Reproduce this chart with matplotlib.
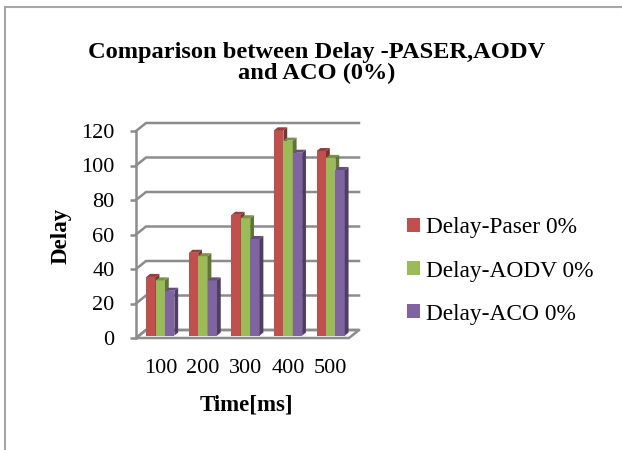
import matplotlib
matplotlib.use('Agg')
import matplotlib.pyplot as plt
from matplotlib.patches import Polygon, Patch
from matplotlib.lines import Line2D
from matplotlib.colors import to_rgb

plt.rcParams['font.family'] = ['Liberation Serif', 'DejaVu Serif']

# data
times = ['100', '200', '300', '400', '500']
series = ['Delay-Paser 0%', 'Delay-AODV 0%', 'Delay-ACO 0%']
paser = [34, 48, 70, 119, 107]
aodv = [32, 46, 68, 113, 103]
aco = [26, 32, 56, 106, 96]
colors = ['#C0504D', '#9BBB59', '#8064A2']

W, H = 622, 450
fig = plt.figure(figsize=(W / 100, H / 100), dpi=100)

# front plane of the plot box in pixels
left_px, right_px, bot_px, top_px = 136, 349, 338, 131
ax = fig.add_axes([left_px / W, (H - bot_px) / H,
                   (right_px - left_px) / W, (bot_px - top_px) / H])
ax.set_xlim(0, len(times))
ax.set_ylim(0, 120)

# depth of the fake 3d box, converted to data units
px_x = (right_px - left_px) / len(times)
px_y = (bot_px - top_px) / 120
DX = 10 / px_x
DY = 8 / px_y
grid_c = '#8C8C8C'

# side wall + back wall grid lines
for v in range(0, 121, 20):
    ax.plot([0, DX, len(times) + DX], [v, v + DY, v + DY],
            color=grid_c, lw=1.8, clip_on=False, zorder=1,
            solid_joinstyle='miter')

# floor
floor = Polygon([(0, 0), (len(times), 0), (len(times) + DX, DY), (DX, DY)],
                closed=True, facecolor='none', edgecolor=grid_c, lw=1.8,
                clip_on=False, zorder=1)
ax.add_patch(floor)


def shade(c, f):
    r, g, b = to_rgb(c)
    return (r * f, g * f, b * f)


# columns, drawn left to right so neighbours hide the side faces
bw = 0.22
f0, f1 = 0.3, 0.68
z = 2
values = [paser, aodv, aco]
for i in range(len(times)):
    x0 = i + (1 - 3 * bw) / 2
    for s in range(3):
        v = values[s][i]
        xl = x0 + s * bw + f0 * DX
        yb = f0 * DY
        ddx = (f1 - f0) * DX
        ddy = (f1 - f0) * DY
        ax.bar(xl, v, width=bw, bottom=yb, align='edge', color=colors[s],
               zorder=z, clip_on=False, linewidth=0)
        side = Polygon([(xl + bw, yb), (xl + bw + ddx, yb + ddy),
                        (xl + bw + ddx, yb + v + ddy), (xl + bw, yb + v)],
                       closed=True, facecolor=shade(colors[s], 0.62),
                       edgecolor='none', zorder=z, clip_on=False)
        top = Polygon([(xl, yb + v), (xl + bw, yb + v),
                       (xl + bw + ddx, yb + v + ddy), (xl + ddx, yb + v + ddy)],
                      closed=True, facecolor=shade(colors[s], 0.78),
                      edgecolor='none', zorder=z, clip_on=False)
        ax.add_patch(side)
        ax.add_patch(top)
        z += 1

# axes styling
for sp in ['top', 'right', 'bottom']:
    ax.spines[sp].set_visible(False)
ax.spines['left'].set_color(grid_c)
ax.spines['left'].set_linewidth(1.8)
ax.set_yticks(range(0, 121, 20))
ax.tick_params(axis='y', direction='out', length=4.5, width=1.8, color=grid_c,
               labelsize=16, pad=11)
ax.set_xticks([i + 0.5 + DX * 0.3 for i in range(len(times))])
ax.set_xticklabels(times)
ax.tick_params(axis='x', length=0, labelsize=16, pad=15)
ax.set_facecolor('none')

fig.text(61 / W, 1 - 236 / H, 'Delay', rotation=90, ha='center', va='center',
         fontsize=16.5, fontweight='bold')
fig.text(246 / W, 1 - 405 / H, 'Time[ms]', ha='center', va='center',
         fontsize=16.5, fontweight='bold')
fig.text(317 / W, 1 - 63 / H, 'Comparison between Delay -PASER,AODV\nand ACO (0%)',
         ha='center', va='center', fontsize=17.6, fontweight='bold', linespacing=1.02)

handles = [Patch(facecolor=c, edgecolor='none') for c in colors]
fig.legend(handles, series, loc='center left', bbox_to_anchor=(407 / W, 1 - 271 / H),
           frameon=False, fontsize=16.8, handlelength=0.55, handleheight=0.55,
           handletextpad=0.28, labelspacing=0.95, borderpad=0, borderaxespad=0)

# chart frame (left and top edges)
fig.add_artist(Line2D([5 / W, 5 / W], [0, 1 - 7 / H], transform=fig.transFigure,
                      color='#A6A6A6', lw=1.5))
fig.add_artist(Line2D([5 / W, 1], [1 - 7 / H, 1 - 7 / H], transform=fig.transFigure,
                      color='#A6A6A6', lw=1.5))

fig.savefig('out.png', dpi=100)
